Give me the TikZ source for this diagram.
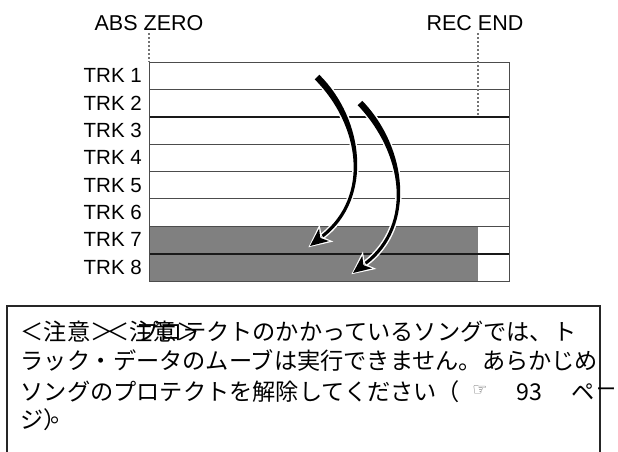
\documentclass[tikz,border=0pt]{standalone}
\usepackage{fontspec}
\setmainfont{Liberation Sans}
\newfontfamily\jpfont{Noto Sans CJK JP}
\newfontfamily\symfont{DejaVu Sans}
\usetikzlibrary{arrows.meta}

\tikzset{
  trklbl/.style={anchor=east,inner sep=0pt,font=\fontsize{20.5}{24}\selectfont},
  marklbl/.style={anchor=base,inner sep=0pt,font=\fontsize{21.5}{26}\selectfont},
  rowline/.style={draw=black!70,line width=0.9pt},
  boldline/.style={draw=black!90,line width=2pt},
  marker/.style={draw=black!55,line width=1.3pt,dash pattern=on 1.6pt off 2.4pt},
  movebody/.style={fill=black,preaction={draw=white,line width=3pt,line join=round}},
  movehalo/.style={draw=white,line width=0.1pt,shorten >=-2pt,
    -{Stealth[length=23pt,width=22pt,inset=6pt,line width=0pt]}},
  movetip/.style={draw=black,line width=0.1pt,
    -{Stealth[length=18pt,width=16pt,inset=5pt,line width=0pt]}},
  notetext/.style={anchor=west,inner sep=0pt,font=\jpfont\fontsize{23.2}{28}\selectfont},
  notebox/.style={draw=black!85,line width=1.8pt},
}

\begin{document}
\begin{tikzpicture}[x=1pt,y=-1pt]
        \useasboundingbox (0,0) rectangle (618,451);

        % grey block on tracks 7 and 8
        \fill[black!50] (149,226.25) rectangle (478,281);

        % the track rows
        \foreach \i in {1,...,8}
                \node[trklbl] (trk\i) at (142,{62+27.375*(\i-0.5)}) {TRK \i};
        \foreach \i in {1,3,4,5,6}
                \draw[rowline] (149,{62+27.375*\i}) -- (509,{62+27.375*\i});
        \foreach \i in {2,7}
                \draw[boldline] (149,{62+27.375*\i}) -- (509,{62+27.375*\i});
        \draw[rowline] (149,62) rectangle (509,281);

        % the two markers above the rows
        \node[marklbl] (abszero) at (149,30) {ABS ZERO};
        \node[marklbl] (recend) at (475,30) {REC END};
        \coordinate (absbot) at (149,62);
        \coordinate (rectop) at (478,33);
        \coordinate (recbot) at (478,116.75);
        \draw[marker] (abszero.south) ++(0,3) -- (absbot);
        \draw[marker] (rectop) -- (recbot);

        % the move arrows (tapered body, then the head)
        \coordinate (mvAb) at (322.6,236);
        \coordinate (mvAe) at (310,246);
        \coordinate (mvBb) at (365.7,263.2);
        \coordinate (mvBe) at (353,273);
        \draw[movehalo] (mvAb) -- (mvAe);
        \draw[movehalo] (mvBb) -- (mvBe);
        \path[movebody] (319.3,74.7) .. controls (364.5,119.5) and (373.4,198.7) .. (323.5,237.2)
                -- (321.7,234.8) .. controls (370.6,195.3) and (359.5,124.5) .. (314.7,79.3) -- cycle;
        \path[movebody] (362.3,100.8) .. controls (407.5,147.6) and (416.3,226.7) .. (366.6,264.4)
                -- (364.8,262) .. controls (413.7,223.3) and (402.5,152.4) .. (357.7,105.2) -- cycle;
        \draw[movetip] (mvAb) -- (mvAe);
        \draw[movetip] (mvBb) -- (mvBe);

        % the note
        \draw[notebox] (7,306) rectangle (600,470);
        \node[notetext] (note1) at (20.5,332) {＜注意＞　プロテクトのかかっているソングでは、ト};
        \node[notetext] (note1b) at (106.5,332) {＜注意＞};
        \node[notetext] (note2) at (20.5,361) {ラック・データのムーブは実行できません。あらかじめ};
        \node[notetext] (note3) at (20.5,392) {ソングのプロテクトを解除してください（};
        \node[inner sep=0pt,text=black!65,font=\symfont\fontsize{17}{18}\selectfont] (hand) at (480,391) {☞};
        \node[inner sep=0pt,font=\jpfont\fontsize{23.2}{28}\selectfont] (pagenum) at (529,392) {93};
        \node[inner sep=0pt,font=\jpfont\fontsize{23.2}{28}\selectfont] (pe) at (583,392) {ペ};
        \node[inner sep=0pt,font=\jpfont\fontsize{20}{24}\selectfont] (bar) at (606,392) {ー};
        \node[notetext] (note4) at (20.5,420) {ジ）};
        \node[notetext] (note4b) at (50,420) {。};
\end{tikzpicture}
\end{document}
